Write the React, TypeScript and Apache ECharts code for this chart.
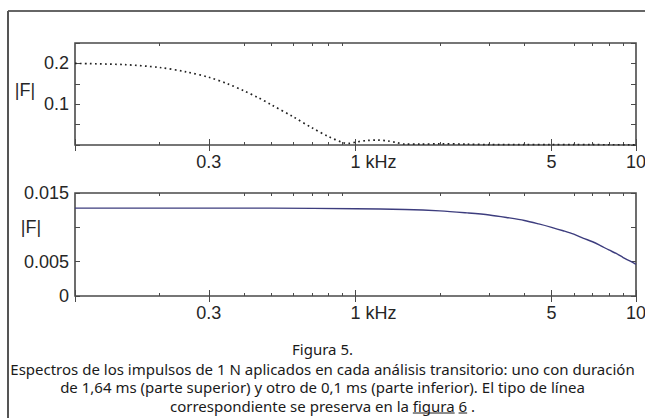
import React, { useEffect, useRef } from 'react';
import * as echarts from 'echarts';

// Upper panel: 1.64 ms pulse spectrum (dotted)
const freqTop = [0.1, 0.15, 0.2, 0.25, 0.3, 0.35, 0.4, 0.45, 0.5, 0.6, 0.7, 0.8, 0.9, 0.95, 1.0, 1.1, 1.2, 1.3, 1.4, 1.5, 1.7, 2, 2.5, 3, 4, 5, 6, 7, 8, 10];
const magTop = [0.2, 0.197, 0.19, 0.179, 0.166, 0.15, 0.133, 0.116, 0.099, 0.069, 0.042, 0.021, 0.006, 0.004, 0.007, 0.011, 0.012, 0.01, 0.006, 0.002, 0.002, 0.003, 0.002, 0.001, 0.001, 0.001, 0.001, 0.0008, 0.0006, 0.0005];

// Lower panel: 0.1 ms pulse spectrum (solid)
const freqBot = [0.1, 0.2, 0.5, 1, 1.5, 2, 2.5, 3, 3.5, 4, 4.5, 5, 5.5, 6, 6.5, 7, 7.5, 8, 8.5, 9, 9.5, 10];
const magBot = [0.0128, 0.0128, 0.0128, 0.0127, 0.0126, 0.0124, 0.0121, 0.0118, 0.0114, 0.011, 0.0105, 0.01, 0.0095, 0.009, 0.0084, 0.0079, 0.0073, 0.0067, 0.0062, 0.0056, 0.0051, 0.0046];

// Axis ticks / labels
const xLabelValues = [0.3, 1, 5, 10];
const xLabelTexts = ['0.3', '1 kHz', '5', '10'];
const xMajorTicks = [0.1, 0.3, 1, 5, 10];
const xMinorTicks = [0.2, 0.4, 0.5, 0.6, 0.7, 0.8, 0.9, 2, 3, 4, 6, 7, 8, 9];
const yTopLabels = [0.1, 0.2];
const yBotLabels = [0, 0.005, 0.015];
const yName = '|F|';

const captionTitle = 'Figura 5.';
const captionLines = [
  'Espectros de los impulsos de 1 N aplicados en cada análisis transitorio: uno con duración',
  'de 1,64 ms (parte superior) y otro de 0,1 ms (parte inferior). El tipo de línea',
  'correspondiente se preserva en la figura 6 .',
];
const linkPrefix = 'correspondiente se preserva en la ';
const linkWord = 'figura';
const linkNum = '6';

const AX = '#4a4a4a';
const TXT = '#262626';
const LBL_FONT = 'Liberation Sans, Arial, Helvetica, sans-serif';
const CAP_SIZE = 15;
const CAP_LH = 18.2;

function near(list: number[], v: number) {
  return list.findIndex((x) => Math.abs(x - v) < 1e-9);
}

export default function App() {
  const ref = useRef<HTMLDivElement>(null);

  useEffect(() => {
    if (!ref.current) return;
    const chart = echarts.init(ref.current, null, { renderer: 'svg' });
    const W = 645;

    const grids = [
      { left: 75, top: 43, width: 561, height: 102 },
      { left: 75, top: 193, width: 561, height: 103 },
    ];

    const xAxes: any[] = [];
    const yAxes: any[] = [];
    grids.forEach((_, gi) => {
      const base = {
        gridIndex: gi,
        type: 'log',
        logBase: 10,
        min: 0.1,
        max: 10,
        axisLine: { show: false },
        splitLine: { show: false },
        minorTick: { show: false },
      };
      xAxes.push({
        ...base,
        position: 'bottom',
        axisTick: { show: true, inside: true, length: 6, customValues: xMajorTicks, lineStyle: { color: AX, width: 1 } },
        axisLabel: {
          show: true,
          customValues: xLabelValues,
          margin: 8,
          fontSize: 18,
          fontFamily: LBL_FONT,
          color: TXT,
          formatter: (v: number) => {
            const i = near(xLabelValues, v);
            if (i < 0) return '';
            return i === 1 ? '{k|' + xLabelTexts[i] + '}' : xLabelTexts[i];
          },
          rich: { k: { padding: [0, 0, 0, 36], fontSize: 18, fontFamily: LBL_FONT, color: TXT } },
        },
      });
      xAxes.push({
        ...base,
        position: 'top',
        axisTick: { show: true, inside: true, length: 6, customValues: xMajorTicks, lineStyle: { color: AX, width: 1 } },
        axisLabel: { show: false },
      });
      xAxes.push({
        ...base,
        position: 'bottom',
        axisTick: { show: true, inside: true, length: 3, customValues: xMinorTicks, lineStyle: { color: AX, width: 1 } },
        axisLabel: { show: false },
      });
      xAxes.push({
        ...base,
        position: 'top',
        axisTick: { show: true, inside: true, length: 3, customValues: xMinorTicks, lineStyle: { color: AX, width: 1 } },
        axisLabel: { show: false },
      });

      const yMax = gi === 0 ? 0.25 : 0.015;
      const yInt = gi === 0 ? 0.05 : 0.005;
      const yLabs = gi === 0 ? yTopLabels : yBotLabels;
      const yBase = {
        gridIndex: gi,
        type: 'value',
        min: 0,
        max: yMax,
        interval: yInt,
        axisLine: { show: false },
        splitLine: { show: false },
        axisTick: { show: true, inside: true, length: 5, lineStyle: { color: AX, width: 1 } },
      };
      yAxes.push({
        ...yBase,
        position: 'left',
        axisLabel: {
          show: true,
          margin: 6,
          fontSize: 18,
          fontFamily: LBL_FONT,
          color: TXT,
          showMinLabel: true,
          showMaxLabel: true,
          formatter: (v: number) => {
            const i = near(yLabs, v);
            return i < 0 ? '' : String(yLabs[i]);
          },
        },
      });
      yAxes.push({
        ...yBase,
        position: 'right',
        axisLabel: { show: false },
      });
    });

    // measure caption line 3 to place the link underlines
    const ctx = document.createElement('canvas').getContext('2d') as CanvasRenderingContext2D;
    ctx.font = `${CAP_SIZE}px "Noto Sans"`;
    const lineW = ctx.measureText(captionLines[2]).width;
    const lx0 = W / 2 - lineW / 2;
    const a1 = lx0 + ctx.measureText(linkPrefix).width;
    const a2 = a1 + ctx.measureText(linkWord).width;
    const b1 = lx0 + ctx.measureText(linkPrefix + linkWord + ' ').width;
    const b2 = b1 + ctx.measureText(linkNum).width;
    const paraTop = 355;
    const line3Center = paraTop + 5 + CAP_LH * 2.5;
    const uy = line3Center + 7.5;

    const option: any = {
      animation: false,
      backgroundColor: '#ffffff',
      grid: grids.map((g) => ({
        ...g,
        show: true,
        borderColor: AX,
        borderWidth: 1.6,
        backgroundColor: 'transparent',
        containLabel: false,
        outerBoundsMode: 'none',
      })),
      xAxis: xAxes,
      yAxis: yAxes,
      title: [
        {
          text: captionTitle,
          left: 'center',
          top: 335,
          textStyle: { fontSize: CAP_SIZE, fontWeight: 'normal', fontFamily: 'Noto Sans', color: '#1a1a1a', lineHeight: 18 },
        },
        {
          text: captionLines.join('\n'),
          left: 'center',
          top: paraTop,
          textStyle: { fontSize: CAP_SIZE, fontWeight: 'normal', fontFamily: 'Noto Sans', color: '#1a1a1a', lineHeight: CAP_LH },
        },
      ],
      graphic: [
        { type: 'line', shape: { x1: 8, y1: 11, x2: 645, y2: 11 }, style: { stroke: '#333', lineWidth: 1.5 } },
        { type: 'line', shape: { x1: 8, y1: 11, x2: 8, y2: 418 }, style: { stroke: '#555', lineWidth: 2 } },
        {
          type: 'text',
          x: 25,
          y: 90,
          style: { text: yName, fontSize: 18, fontFamily: LBL_FONT, fill: TXT, align: 'center', verticalAlign: 'middle' },
        },
        {
          type: 'text',
          x: 31,
          y: 227,
          style: { text: yName, fontSize: 18, fontFamily: LBL_FONT, fill: TXT, align: 'center', verticalAlign: 'middle' },
        },
        { type: 'line', shape: { x1: a1, y1: uy, x2: a2, y2: uy }, style: { stroke: '#1a1a1a', lineWidth: 1 } },
        { type: 'line', shape: { x1: b1, y1: uy, x2: b2, y2: uy }, style: { stroke: '#1a1a1a', lineWidth: 1 } },
      ],
      series: [
        {
          type: 'line',
          xAxisIndex: 0,
          yAxisIndex: 0,
          data: freqTop.map((f, i) => [f, magTop[i]]),
          showSymbol: false,
          smooth: 0.3,
          lineStyle: { color: '#222', width: 1.7, type: [1.7, 3.3] },
        },
        {
          type: 'line',
          xAxisIndex: 4,
          yAxisIndex: 2,
          data: freqBot.map((f, i) => [f, magBot[i]]),
          showSymbol: false,
          smooth: 0.3,
          lineStyle: { color: '#3d3d7e', width: 1.4 },
        },
      ],
    };

    chart.setOption(option);
    return () => chart.dispose();
  }, []);

  return (
    <div
      ref={ref}
      style={{ position: 'fixed', left: 0, top: 0, width: 645, height: 418, background: '#fff' }}
    />
  );
}
